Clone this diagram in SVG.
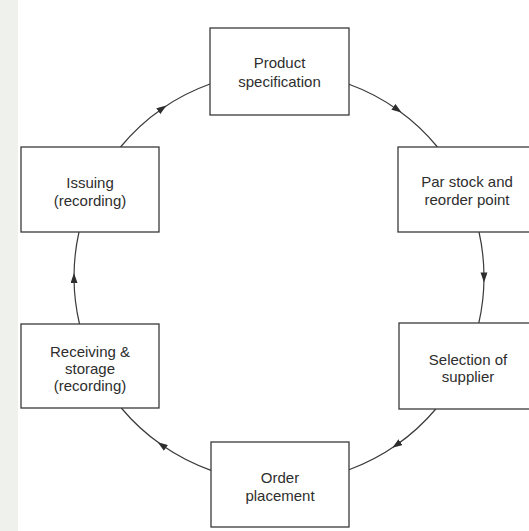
<svg xmlns="http://www.w3.org/2000/svg" width="529" height="531" viewBox="0 0 529 531">
  <defs>
    <style>
      .box { fill: #ffffff; stroke: #3a3a3a; stroke-width: 1.3; }
      .lbl { font-family: "Liberation Sans", Arial, sans-serif; font-size: 15px; fill: #2e2e2e; text-anchor: middle; }
      .arc { fill: none; stroke: #3a3a3a; stroke-width: 1.2; marker-mid: url(#arrow); }
    </style>
    <marker id="arrow" viewBox="0 0 10 7" refX="5" refY="3.5" markerWidth="10" markerHeight="7" markerUnits="userSpaceOnUse" orient="auto">
      <path d="M0,0 L10,3.5 L0,7 z" fill="#2e2e2e"/>
    </marker>
  </defs>

  <!-- page background -->
  <rect x="0" y="0" width="529" height="531" fill="#ffffff"/>
  <rect x="0" y="0" width="18" height="531" fill="#eff1ed"/>

  <!-- cycle connectors: arcs of one circle, centre (279,277), r 205 -->
  <g id="connectors">
    <path class="arc" d="M349,84.3 A205,205 0 0 1 397.5,109.7 A205,205 0 0 1 437.5,147"/>
    <path class="arc" d="M479,232 A205,205 0 0 1 484,277.5 A205,205 0 0 1 478.8,323"/>
    <path class="arc" d="M435.8,409 A205,205 0 0 1 396.4,445 A205,205 0 0 1 349,469.7"/>
    <path class="arc" d="M211,470.4 A205,205 0 0 1 161.8,445.1 A205,205 0 0 1 121.3,408"/>
    <path class="arc" d="M79.5,324 A205,205 0 0 1 74,278.1 A205,205 0 0 1 79,232"/>
    <path class="arc" d="M120.5,147 A205,205 0 0 1 162.4,108.4 A205,205 0 0 1 210,84"/>
  </g>

  <g id="product-specification">
    <rect class="box" x="210" y="28" width="139" height="87"/>
    <text class="lbl" x="279.5" y="68">Product</text>
    <text class="lbl" x="279.5" y="87">specification</text>
  </g>

  <g id="par-stock">
    <rect class="box" x="398" y="147" width="138" height="85"/>
    <text class="lbl" x="467" y="187">Par stock and</text>
    <text class="lbl" x="467" y="205">reorder point</text>
  </g>

  <g id="selection-of-supplier">
    <rect class="box" x="399" y="323" width="138" height="86"/>
    <text class="lbl" x="468" y="365">Selection of</text>
    <text class="lbl" x="468" y="382">supplier</text>
  </g>

  <g id="order-placement">
    <rect class="box" x="211" y="442" width="138" height="85"/>
    <text class="lbl" x="280" y="483">Order</text>
    <text class="lbl" x="280" y="501">placement</text>
  </g>

  <g id="receiving-storage">
    <rect class="box" x="21" y="324" width="138" height="84"/>
    <text class="lbl" x="90" y="357">Receiving &amp;</text>
    <text class="lbl" x="90" y="374">storage</text>
    <text class="lbl" x="90" y="391">(recording)</text>
  </g>

  <g id="issuing">
    <rect class="box" x="21" y="147" width="138" height="85"/>
    <text class="lbl" x="90" y="188">Issuing</text>
    <text class="lbl" x="90" y="206">(recording)</text>
  </g>
</svg>
